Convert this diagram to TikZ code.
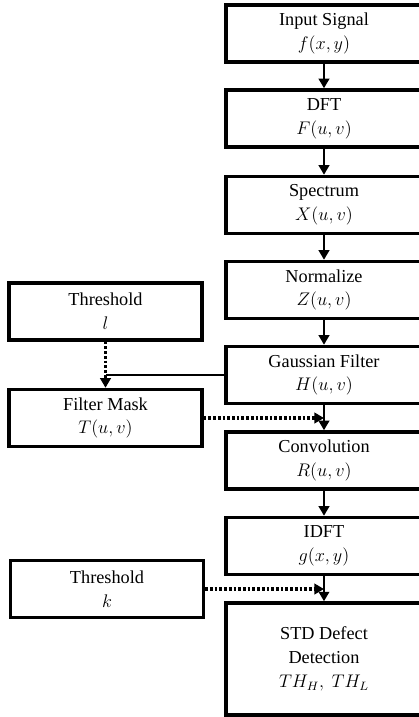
\documentclass[tikz,border=0pt]{standalone}
\usepackage{fontspec}
\setmainfont{Liberation Serif}
\usetikzlibrary{arrows.meta,positioning,calc}

\begin{document}
\begin{tikzpicture}[x=0.0231cm,y=-0.0231cm,>={Triangle[length=2.2mm,width=2.4mm]},
  every node/.style={font=\fontsize{12}{15.6}\selectfont},
  blk/.style={draw,line width=2.2pt,align=center,minimum width=4.53cm,minimum height=1.32cm,inner sep=0pt},
  side/.style={draw,line width=2.2pt,align=center,minimum width=4.46cm,minimum height=1.32cm,inner sep=0pt},
  flow/.style={->,line width=1.9pt},
  feed/.style={line width=2pt,dash pattern=on 1.8pt off 1.3pt}]
\useasboundingbox (0,0) rectangle (418,717);
\node[blk] (input) at (324,33.5) {Input Signal\\$f(x,y)$};
\node[blk] (dft) at (324,118.5) {DFT\\$F(u,v)$};
\node[blk] (spec) at (324,205) {Spectrum\\$X(u,v)$};
\node[blk] (norm) at (324,290) {Normalize\\$Z(u,v)$};
\node[blk] (gauss) at (324,375) {Gaussian Filter\\$H(u,v)$};
\node[blk] (conv) at (324,460.5) {Convolution\\$R(u,v)$};
\node[blk] (idft) at (324,546) {IDFT\\$g(x,y)$};
\node[blk,minimum height=2.59cm] (std) at (324,659) {STD Defect\\Detection\\$TH_H,\ TH_L$};
\node[side] (thl) at (105.5,311.5) {Threshold\\$l$};
\node[side] (mask) at (105.5,418) {Filter Mask\\$T(u,v)$};
\node[side] (thk) at (107,589) {Threshold\\$k$};
\draw[flow] (input) -- (dft);
\draw[flow] (dft) -- (spec);
\draw[flow] (spec) -- (norm);
\draw[flow] (norm) -- (gauss);
\draw[flow] (gauss) -- (conv);
\draw[flow] (conv) -- (idft);
\draw[flow] (idft) -- (std);
\coordinate (jn) at (thl.south |- gauss.west);
\draw[line width=0.8pt] (gauss.west) -- (jn);
\draw[feed] (thl.south) -- (jn);
\draw[flow] (jn) -- (mask.north);
\draw[feed,->] (mask.east) -- (gauss.south |- mask.east);
\draw[feed,->] (thk.east) -- (idft.south |- thk.east);
\end{tikzpicture}
\end{document}
